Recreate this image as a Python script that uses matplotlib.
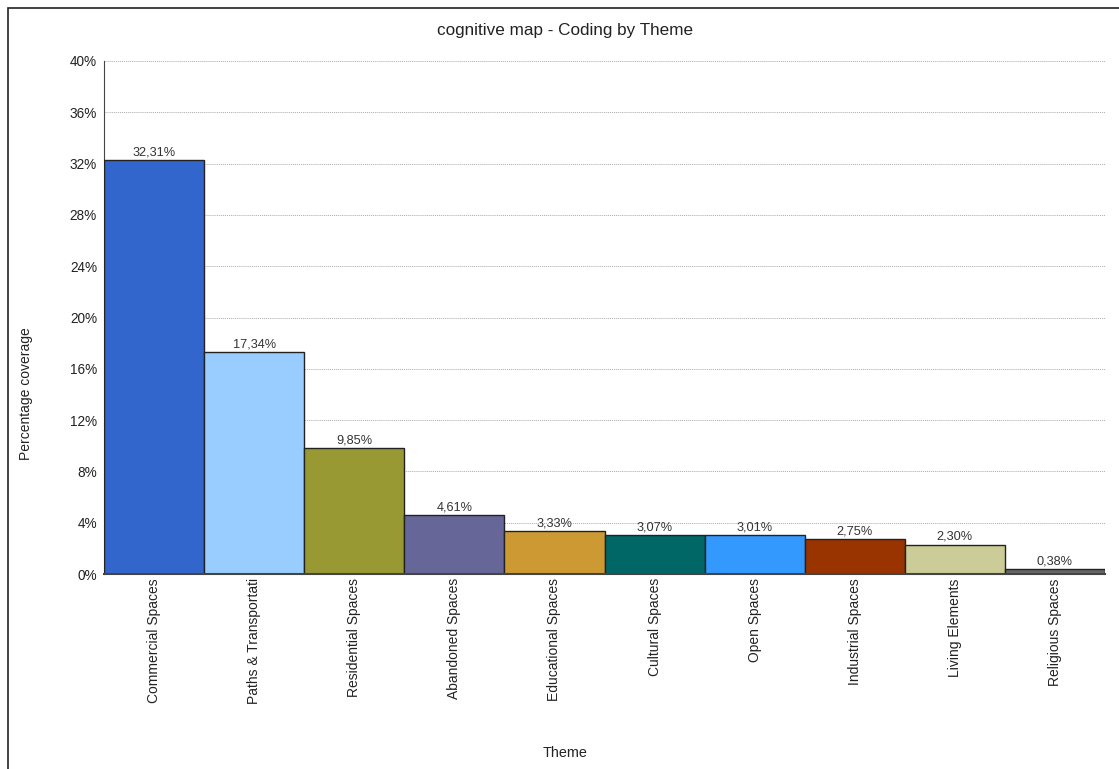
import matplotlib.pyplot as plt
from matplotlib.patches import Rectangle
from matplotlib.ticker import FuncFormatter

plt.rcParams['font.family'] = ['Liberation Sans', 'DejaVu Sans']

# Data
themes = ["Commercial Spaces", "Paths & Transportati", "Residential Spaces",
          "Abandoned Spaces", "Educational Spaces", "Cultural Spaces",
          "Open Spaces", "Industrial Spaces", "Living Elements", "Religious Spaces"]
coverage = [32.31, 17.34, 9.85, 4.61, 3.33, 3.07, 3.01, 2.75, 2.30, 0.38]
colors = ["#3366CC", "#99CCFF", "#999933", "#666699", "#CC9933",
          "#006666", "#3399FF", "#993300", "#CCCC99", "#666666"]
yticks = [0, 4, 8, 12, 16, 20, 24, 28, 32, 36, 40]

W, H = 1119, 769
fig = plt.figure(figsize=(W / 100, H / 100), dpi=100)
ax = fig.add_axes([104 / W, 1 - 574 / H, (1105 - 104) / W, (574 - 61) / H])

# outer frame (cropped at right/bottom)
fig.patches.append(Rectangle((8 / W, -0.05), 1.1, 1 - 8 / H + 0.05, transform=fig.transFigure,
                             fill=False, edgecolor="#222222", linewidth=1.2))

x = range(len(themes))
bars = ax.bar(x, coverage, width=1.0, color=colors, edgecolor="#222222", linewidth=1.0, zorder=3)
for i, v in enumerate(coverage):
    ax.text(i, v + 0.12, f"{v:.2f}%".replace(".", ","), ha="center", va="bottom",
            fontsize=9.2, color="#333333", zorder=4)

ax.set_xlim(-0.5, len(themes) - 0.5)
ax.set_ylim(0, 40)
ax.set_yticks(yticks)
ax.yaxis.set_major_formatter(FuncFormatter(lambda v, p: f"{v:.0f}%"))
ax.set_xticks(list(x))
ax.set_xticklabels(themes, rotation=90, fontsize=10, color="#222222")
ax.tick_params(axis="x", length=0, pad=3)
ax.tick_params(axis="y", length=0, pad=5, labelsize=9.8, labelcolor="#222222")
ax.grid(axis="y", linestyle=(0, (1, 1)), color="#aaaaaa", linewidth=0.7, zorder=0)

for s in ["top", "right"]:
    ax.spines[s].set_visible(False)
ax.spines["left"].set_color("#444444")
ax.spines["bottom"].set_color("#444444")
ax.spines["bottom"].set_linewidth(1.5)
ax.spines["bottom"].set_zorder(5)

fig.text(565 / W, 1 - 30 / H, "cognitive map - Coding by Theme", ha="center", va="center",
         fontsize=12.3, color="#222222")
fig.text(26 / W, 1 - 394 / H, "Percentage coverage", ha="center", va="center",
         rotation=90, fontsize=10, color="#222222")
fig.text(565 / W, 1 - 753 / H, "Theme", ha="center", va="center",
         fontsize=10.4, color="#222222")

fig.savefig("out.png", dpi=100)
